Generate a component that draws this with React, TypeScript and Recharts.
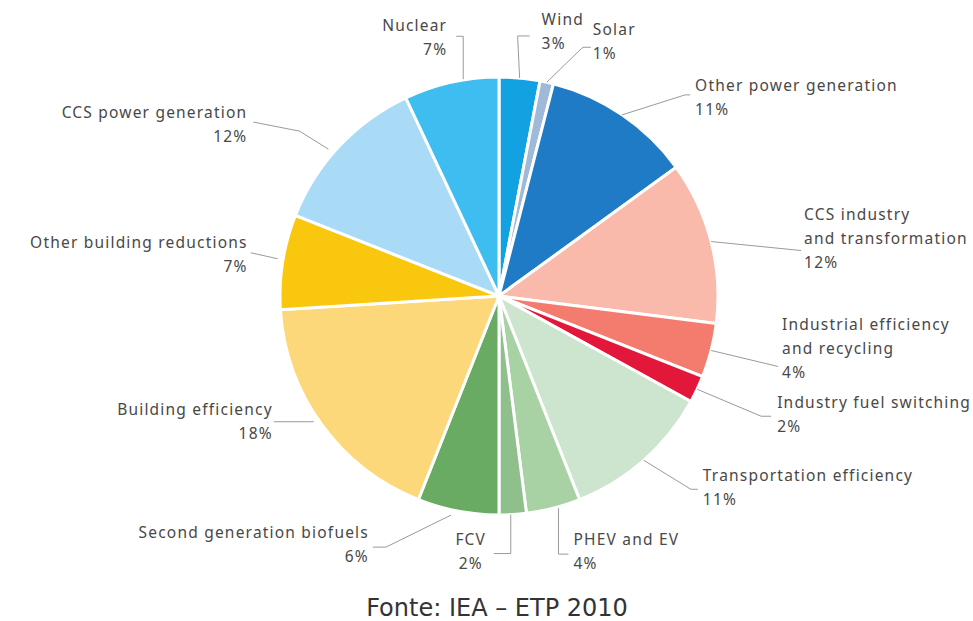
import React from 'react';
import { PieChart, Pie, Cell } from 'recharts';

const categories = [
  'Wind',
  'Solar',
  'Other power generation',
  'CCS industry\nand transformation',
  'Industrial efficiency\nand recycling',
  'Industry fuel switching',
  'Transportation efficiency',
  'PHEV and EV',
  'FCV',
  'Second generation biofuels',
  'Building efficiency',
  'Other building reductions',
  'CCS power generation',
  'Nuclear',
];

const shares = [3, 1, 11, 12, 4, 2, 11, 4, 2, 6, 18, 7, 12, 7];

const colors = [
  '#12a2e2',
  '#9fb9d8',
  '#1f7bc6',
  '#f9b9ab',
  '#f47c6e',
  '#e3173a',
  '#cde4cf',
  '#a9d2a4',
  '#8fbf8b',
  '#6aab64',
  '#fdd87a',
  '#f9c80e',
  '#a9dbf7',
  '#3dbdf0',
];

const footer = 'Fonte: IEA \u2013 ETP 2010';

const data = categories.map((name, i) => ({ name, value: shares[i] }));

// label layout: leader polyline offsets from the slice edge point, text anchor and offset
type LabelLayout = { pts: number[][]; anchor: 'start' | 'end' | 'middle'; tx: number; ty: number };
const labelLayout: LabelLayout[] = [
  { pts: [[0, 0], [-2, -42], [10, -42]], anchor: 'start', tx: 22, ty: -53 },
  { pts: [[0, 0], [36, -35], [44, -35]], anchor: 'start', tx: 46, ty: -47 },
  { pts: [[0, 0], [63, -20], [68, -20]], anchor: 'start', tx: 73, ty: -24 },
  { pts: [[0, 0], [90, 9]], anchor: 'start', tx: 93, ty: -22 },
  { pts: [[0, 0], [67, 16]], anchor: 'start', tx: 71, ty: -20 },
  { pts: [[0, 0], [64, 27], [74, 27]], anchor: 'start', tx: 80, ty: 19 },
  { pts: [[0, 0], [47, 29], [54, 29]], anchor: 'start', tx: 59, ty: 21 },
  { pts: [[5, 0], [5, 46], [15, 46]], anchor: 'start', tx: 20, ty: 37 },
  { pts: [[-2, 0], [-2, 39], [-19, 39]], anchor: 'middle', tx: -42, ty: 30 },
  { pts: [[-7, 4], [-72, 36], [-85, 36]], anchor: 'end', tx: -89, ty: 27 },
  { pts: [[-8, -3], [-48, -3]], anchor: 'end', tx: -49, ty: -10 },
  { pts: [[-5, -3], [-32, -9]], anchor: 'end', tx: -35, ty: -14 },
  { pts: [[-11, 3], [-40, -15], [-86, -24]], anchor: 'end', tx: -92, ty: -28 },
  { pts: [[12, -3], [12, -46], [5, -46]], anchor: 'end', tx: -4, ty: -51 },
];

const RADIAN = Math.PI / 180;
const LINE_H = 24;

const renderLabel = (props: any) => {
  const { cx, cy, midAngle, outerRadius, index } = props;
  const sx = cx + outerRadius * Math.cos(-midAngle * RADIAN);
  const sy = cy + outerRadius * Math.sin(-midAngle * RADIAN);
  const lay = labelLayout[index];
  const lines = [...categories[index].split('\n'), `${shares[index]}%`];
  const points = lay.pts.map(([dx, dy]) => `${sx + dx},${sy + dy}`).join(' ');
  return (
    <g key={`lbl-${index}`}>
      <polyline points={points} fill="none" stroke="#9a9a9a" strokeWidth={1} />
      <text
        x={sx + lay.tx}
        y={sy + lay.ty}
        textAnchor={lay.anchor}
        fill="#484848"
        fontFamily="'Noto Sans', sans-serif"
        fontSize={15.5}
        letterSpacing={1.2}
      >
        {lines.map((l, i) => (
          <tspan key={i} x={sx + lay.tx} y={sy + lay.ty + i * LINE_H}>
            {l}
          </tspan>
        ))}
      </text>
    </g>
  );
};

export default function App() {
  return (
    <div style={{ position: 'absolute', left: 0, top: 0, width: 973, height: 621, background: '#fff' }}>
      <PieChart width={973} height={621} margin={{ top: 0, right: 0, bottom: 0, left: 0 }}>
        <Pie
          data={data}
          dataKey="value"
          nameKey="name"
          cx={499}
          cy={296}
          outerRadius={219}
          startAngle={90}
          endAngle={-270}
          stroke="#ffffff"
          strokeWidth={3}
          label={renderLabel}
          labelLine={false}
          isAnimationActive={false}
        >
          {data.map((d, i) => (
            <Cell key={d.name} fill={colors[i]} />
          ))}
        </Pie>
      </PieChart>
      <div
        style={{
          position: 'absolute',
          left: 0,
          top: 594,
          width: 994,
          textAlign: 'center',
          fontFamily: "'DejaVu Sans', sans-serif",
          fontSize: 24,
          color: '#333',
        }}
      >
        {footer}
      </div>
    </div>
  );
}
